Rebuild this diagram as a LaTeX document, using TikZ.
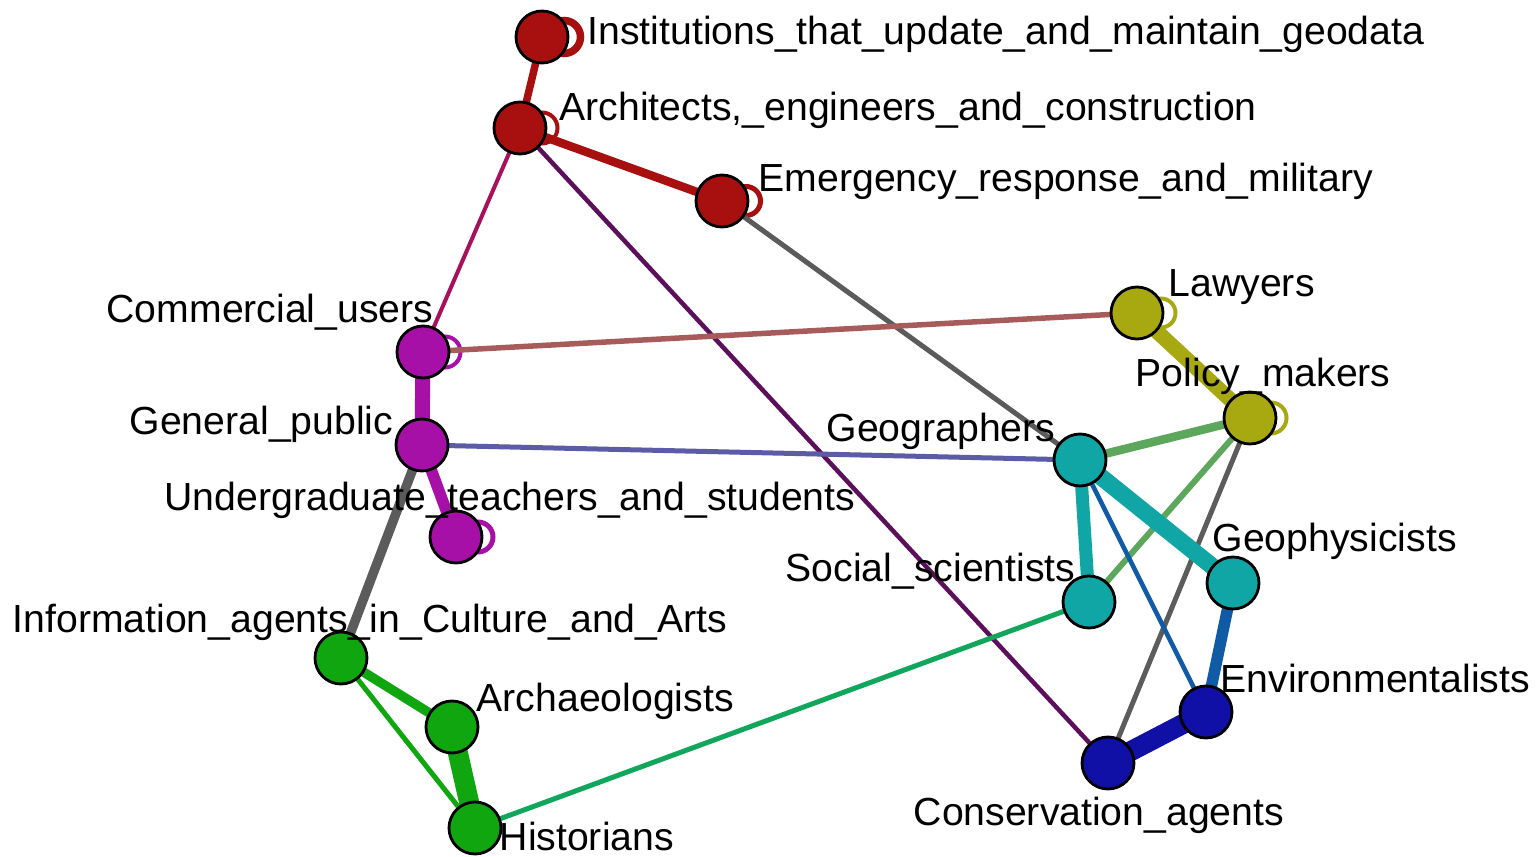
\documentclass[tikz,border=0pt]{standalone}
\usepackage{fontspec}
\setmainfont{Liberation Sans}
\usetikzlibrary{backgrounds}

% group colours, ties between groups take the mix of both ends
\definecolor{grpred}{RGB}{168,16,16}
\definecolor{grpmag}{RGB}{166,16,166}
\definecolor{grpolive}{RGB}{168,168,16}
\definecolor{grpteal}{RGB}{16,166,166}
\definecolor{grpblue}{RGB}{16,16,166}
\definecolor{grpgreen}{RGB}{16,166,16}

\tikzset{
	actor/.style={circle,draw=black,line width=0.8pt,minimum size=5.2mm,inner sep=0pt},
	actorname/.style={anchor=base west,inner sep=0pt,font=\fontsize{11.15pt}{13pt}\selectfont},
	tie/.style={line width=#1mm},
	selfloop/.style={line width=#1mm}
}

\begin{document}
\begin{tikzpicture}[x=0.1mm,y=-0.1mm]
	\useasboundingbox (0,0) rectangle (1537,857);

	% actors
	\node[actor,fill=grpred] (inst) at (542,37) {};
	\node[actor,fill=grpred] (arch) at (520,128) {};
	\node[actor,fill=grpred] (emerg) at (722,201) {};
	\node[actor,fill=grpolive] (lawyers) at (1137,313) {};
	\node[actor,fill=grpolive] (policy) at (1250,418) {};
	\node[actor,fill=grpmag] (commercial) at (423,352) {};
	\node[actor,fill=grpmag] (public) at (422,445) {};
	\node[actor,fill=grpmag] (undergrad) at (456,537) {};
	\node[actor,fill=grpteal] (geog) at (1080,460) {};
	\node[actor,fill=grpteal] (social) at (1089,602) {};
	\node[actor,fill=grpteal] (geophys) at (1233,583) {};
	\node[actor,fill=grpblue] (environ) at (1206,712) {};
	\node[actor,fill=grpblue] (conserv) at (1108,763) {};
	\node[actor,fill=grpgreen] (info) at (341,658) {};
	\node[actor,fill=grpgreen] (archaeo) at (452,727) {};
	\node[actor,fill=grpgreen] (hist) at (475,828) {};

	\begin{scope}[on background layer]
		% self loops
		\draw[grpred,selfloop=0.75] (inst) ++(22,0) circle (1.65mm);
		\draw[grpred,selfloop=0.4] (arch) ++(22,0) circle (1.55mm);
		\draw[grpred,selfloop=0.5] (emerg) ++(24,0) circle (1.45mm);
		\draw[grpmag,selfloop=0.4] (commercial) ++(22,0) circle (1.55mm);
		\draw[grpmag,selfloop=0.5] (undergrad) ++(22,0) circle (1.5mm);
		\draw[grpolive,selfloop=0.4] (lawyers) ++(24,0) circle (1.45mm);
		\draw[grpolive,selfloop=0.4] (policy) ++(21,0) circle (1.55mm);

		% ties
		\draw[grpred,tie=0.75] (inst.center) -- (arch.center);
		\draw[grpred,tie=0.85] (arch.center) -- (emerg.center);
		\draw[grpred!50!grpmag,tie=0.4] (arch.center) -- (commercial.center);
		\draw[grpred!50!grpblue,tie=0.45] (arch.center) -- (conserv.center);
		\draw[grpred!50!grpteal,tie=0.5] (emerg.center) -- (geog.center);
		\draw[grpmag!50!grpolive,tie=0.55] (commercial.center) -- (lawyers.center);
		\draw[grpmag,tie=1.5] (commercial.center) -- (public.center);
		\draw[grpmag,tie=1.15] (public.center) -- (undergrad.center);
		\draw[grpmag!50!grpteal,tie=0.5] (public.center) -- (geog.center);
		\draw[grpmag!50!grpgreen,tie=0.95] (public.center) -- (info.center);
		\draw[grpolive,tie=1.5] (lawyers.center) -- (policy.center);
		\draw[grpolive!50!grpteal,tie=0.85] (policy.center) -- (geog.center);
		\draw[grpolive!50!grpteal,tie=0.6] (policy.center) -- (social.center);
		\draw[grpolive!50!grpblue,tie=0.5] (policy.center) -- (conserv.center);
		\draw[grpteal,tie=1.3] (geog.center) -- (social.center);
		\draw[grpteal,tie=1.7] (geog.center) -- (geophys.center);
		\draw[grpteal!50!grpblue,tie=0.45] (geog.center) -- (environ.center);
		\draw[grpteal!50!grpblue,tie=1.15] (geophys.center) -- (environ.center);
		\draw[grpblue,tie=2.0] (environ.center) -- (conserv.center);
		\draw[grpteal!50!grpgreen,tie=0.5] (social.center) -- (hist.center);
		\draw[grpgreen,tie=0.95] (info.center) -- (archaeo.center);
		\draw[grpgreen,tie=0.5] (info.center) -- (hist.center);
		\draw[grpgreen,tie=2.0] (archaeo.center) -- (hist.center);
	\end{scope}

	% names
	\node[actorname] (inst-name) at (587,45) {Institutions\_that\_update\_and\_maintain\_geodata};
	\node[actorname] (arch-name) at (559,121) {Architects,\_engineers\_and\_construction};
	\node[actorname] (emerg-name) at (758,192) {Emergency\_response\_and\_military};
	\node[actorname] (lawyers-name) at (1168,297) {Lawyers};
	\node[actorname] (policy-name) at (1135,387) {Policy\_makers};
	\node[actorname] (commercial-name) at (106,323) {Commercial\_users};
	\node[actorname] (public-name) at (129,435) {General\_public};
	\node[actorname] (geog-name) at (826,442) {Geographers};
	\node[actorname] (undergrad-name) at (164,511) {Undergraduate\_teachers\_and\_students};
	\node[actorname] (geophys-name) at (1212,552) {Geophysicists};
	\node[actorname] (social-name) at (785,582) {Social\_scientists};
	\node[actorname] (info-name) at (12,633) {Information\_agents\_in\_Culture\_and\_Arts};
	\node[actorname] (environ-name) at (1220,692) {Environmentalists};
	\node[actorname] (archaeo-name) at (476,711) {Archaeologists};
	\node[actorname] (conserv-name) at (913,825) {Conservation\_agents};
	\node[actorname] (hist-name) at (499,850) {Historians};
\end{tikzpicture}
\end{document}
